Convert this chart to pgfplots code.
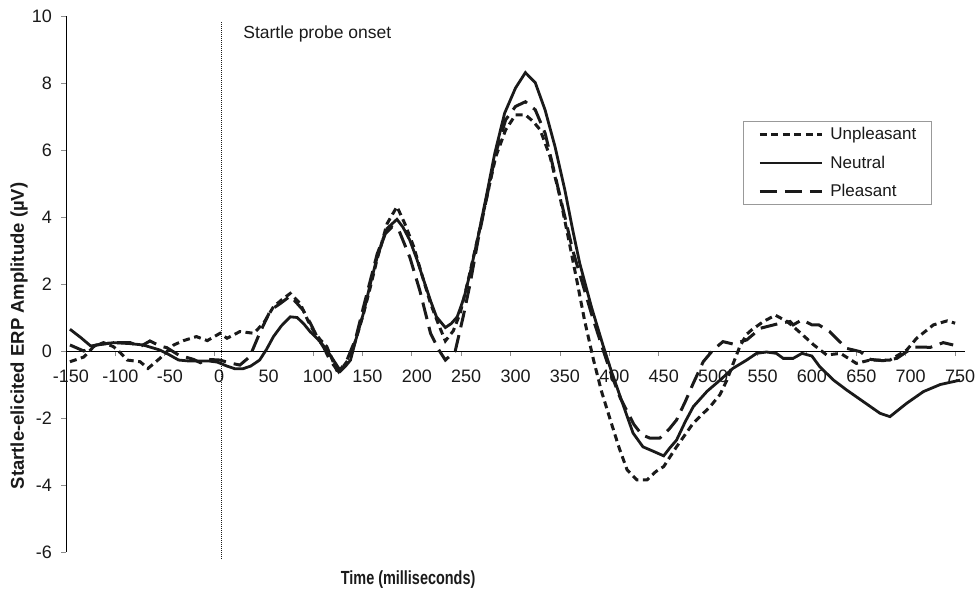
\documentclass[border=0pt]{standalone}
\usepackage{fontspec}
\setmainfont{Liberation Sans}
\usepackage{graphicx}
\usepackage{pgfplots}
\pgfplotsset{compat=1.18}
\definecolor{ink}{HTML}{1A1A1A}
\definecolor{tickgray}{HTML}{8C8C8C}
\begin{document}
\begin{tikzpicture}
\begin{axis}[
  name=ax,
  scale only axis, width=899pt, height=536pt,
  xmin=-155, xmax=755, ymin=-6, ymax=10,
  axis x line=middle, axis y line=left,
  axis line style={-, black, line width=0.9pt},
  hide obscured x ticks=false, hide obscured y ticks=false,
  xtick={-155,-105,...,745},
  xticklabels={-150,-100,-50,0,50,100,150,200,250,300,350,400,450,500,550,600,650,700,750},
  ytick={-6,-4,...,10},
  yticklabels={-6,-4,-2,0,2,4,6,8,10},
  tick align=outside, major tick length=5pt,
  tick style={tickgray, line width=0.9pt},
  xticklabel style={anchor=north, inner sep=0pt, xshift=5pt, yshift=-14pt},
  yticklabel style={anchor=east, inner sep=0pt, xshift=-9pt},
  every tick label/.append style={font=\fontsize{18}{20}\selectfont, text=ink},
  clip=false,
  legend image code/.code={\draw[#1] (0pt,0pt) -- (62pt,0pt);},
  legend style={at={(0.753,0.804)}, anchor=north west, draw=gray!80,
    line width=0.8pt, font=\fontsize{17}{20}\selectfont, text=ink,
    inner xsep=15pt, inner ysep=4.5pt, row sep=11.5pt, column sep=7pt,
    nodes={inner sep=0pt, text height=14pt, text depth=3pt}},
  legend cell align=left,
]
% probe onset marker
\draw[ink, line width=1pt, dash pattern=on 1pt off 1pt]
  (axis cs:2.5,-6.2) -- (axis cs:2.5,9.85);
\node[anchor=base west, inner sep=0pt, font=\fontsize{17.5}{20}\selectfont, text=ink]
  at (axis cs:24.3,9.34) {Startle probe onset};

% Unpleasant
\addplot[ink, line width=3pt, dash pattern=on 7pt off 4.5pt] coordinates {
(-151,-0.32) (-137,-0.18) (-127,0.13) (-117,0.25) (-107,0.13) (-100,-0.05)
(-93,-0.27) (-80,-0.32) (-72,-0.52) (-60,-0.22) (-46,0.18) (-36,0.31)
(-23,0.43) (-12,0.31) (1,0.53) (8,0.38) (21,0.58) (35,0.53) (45,0.83)
(55,1.32) (63,1.52) (72,1.72) (82,1.42) (90,0.9) (95,0.63) (102,0.35)
(109,0.13) (119,-0.57) (126,-0.45) (133,-0.17) (140,0.5) (146,1.1)
(153,1.9) (160,2.75) (170,3.8) (180,4.31) (188,3.8) (197,3.11) (205,2.3)
(214,1.42) (222,0.8) (229,0.3) (237,0.6) (244,1.13) (252,2.1) (262,3.4)
(271,4.6) (280,5.8) (290,6.6) (300,7.05) (310,7.05) (318,6.85) (325,6.6)
(335,5.8) (345,4.6) (354,3.3) (362,2.12) (370,0.9) (379,-0.27) (387,-1.2)
(396,-2.06) (405,-2.9) (413,-3.55) (423,-3.85) (433,-3.85) (442,-3.6)
(450,-3.45) (463,-2.86) (480,-2.15) (497,-1.66) (507,-1.3) (514,-0.87)
(520,-0.4) (527,0.13) (534,0.5) (539,0.63) (551,0.88) (563,1.07) (575,0.88)
(585,0.63) (602,0.18) (615,-0.12) (629,-0.07) (645,-0.37) (659,-0.27)
(679,-0.27) (696,0.03) (706,0.38) (723,0.78) (737,0.9) (745,0.83)
};
\addlegendentry{Unpleasant}

% Neutral
\addplot[ink, line width=2.8pt] coordinates {
(-151,0.65) (-140,0.4) (-130,0.15) (-120,0.2) (-107,0.25) (-90,0.22)
(-77,0.18) (-60,0.03) (-50,-0.12) (-41,-0.27) (-30,-0.3) (-19,-0.3)
(-10,-0.3) (-2,-0.33) (8,-0.45) (16,-0.53) (24,-0.53) (32,-0.45)
(41,-0.27) (48,0.05) (55,0.43) (63,0.75) (72,1.02) (79,1.0) (86,0.8)
(92,0.58) (99,0.38) (105,0.18) (112,-0.1) (119,-0.42) (123,-0.6)
(128,-0.45) (133,-0.27) (138,0.3) (146,1.12) (153,2.0) (160,2.8)
(170,3.66) (180,3.93) (186,3.7) (193,3.31) (200,2.75) (207,2.12)
(214,1.5) (220,1.02) (229,0.7) (235,0.82) (241,1.02) (248,1.6) (254,2.32)
(262,3.4) (271,4.7) (279,5.9) (289,7.1) (300,7.85) (310,8.31) (320,8.01)
(330,7.19) (340,6.1) (350,4.8) (358,3.6) (365,2.62) (377,1.3) (389,0.13)
(397,-0.6) (406,-1.36) (413,-1.95) (419,-2.45) (429,-2.86) (440,-3.0)
(450,-3.13) (456,-2.9) (463,-2.66) (472,-2.1) (480,-1.66) (494,-1.2)
(507,-0.87) (520,-0.52) (534,-0.27) (544,-0.07) (554,-0.03) (564,-0.07)
(571,-0.22) (581,-0.22) (590,-0.07) (600,-0.15) (608,-0.47) (622,-0.87)
(635,-1.16) (652,-1.51) (669,-1.86) (679,-1.96) (696,-1.56) (713,-1.21)
(730,-1.0) (750,-0.87)
};
\addlegendentry{Neutral}

% Pleasant
\addplot[ink, line width=3pt, dash pattern=on 17pt off 8pt] coordinates {
(-151,0.18) (-137,0.0) (-124,0.18) (-107,0.25) (-90,0.25) (-80,0.13)
(-70,0.3) (-60,0.15) (-53,0.1) (-41,-0.12) (-26,-0.25) (-19,-0.35)
(-12,-0.25) (1,-0.27) (10,-0.35) (21,-0.42) (31,-0.17) (41,0.53)
(52,1.22) (62,1.42) (72,1.64) (78,1.45) (85,1.22) (92,0.85) (99,0.43)
(106,0.1) (112,-0.27) (121,-0.62) (129,-0.3) (138,0.35) (146,1.3)
(153,2.1) (160,2.9) (168,3.5) (175,3.7) (182,3.6) (193,2.8) (203,1.82)
(214,0.53) (222,0.05) (229,-0.27) (239,0.0) (247,1.02) (254,2.0)
(262,3.3) (271,4.6) (280,5.9) (290,6.9) (300,7.3) (310,7.44) (320,7.2)
(330,6.5) (342,5.0) (350,4.0) (358,3.0) (365,2.3) (377,1.1) (389,0.0)
(397,-0.7) (406,-1.4) (413,-1.8) (420,-2.2) (428,-2.5) (436,-2.6)
(446,-2.6) (455,-2.35) (463,-2.06) (472,-1.5) (480,-0.96) (490,-0.32)
(500,0.03) (510,0.28) (520,0.21) (534,0.33) (548,0.68) (568,0.83)
(578,0.88) (581,0.78) (590,0.93) (600,0.78) (607,0.78) (618,0.58)
(635,0.08) (649,-0.02) (659,-0.25) (672,-0.29) (686,-0.22) (703,0.12)
(720,0.11) (733,0.25) (743,0.18)
};
\addlegendentry{Pleasant}

% axis titles
\node[rotate=90, font=\bfseries\fontsize{18.5}{22}\selectfont, text=ink]
  at (axis cs:-202.6,0.45) {Startle-elicited ERP Amplitude (µV)};
\node[anchor=base, font=\bfseries\fontsize{19}{22}\selectfont, text=ink]
  at (axis cs:191.3,-6.955) {\scalebox{0.76}[1]{Time (milliseconds)}};
\end{axis}
\pgfresetboundingbox
\path ([xshift=-66pt,yshift=-40pt]ax.south west) rectangle ([xshift=11pt,yshift=16pt]ax.north east);
\end{tikzpicture}
\end{document}
